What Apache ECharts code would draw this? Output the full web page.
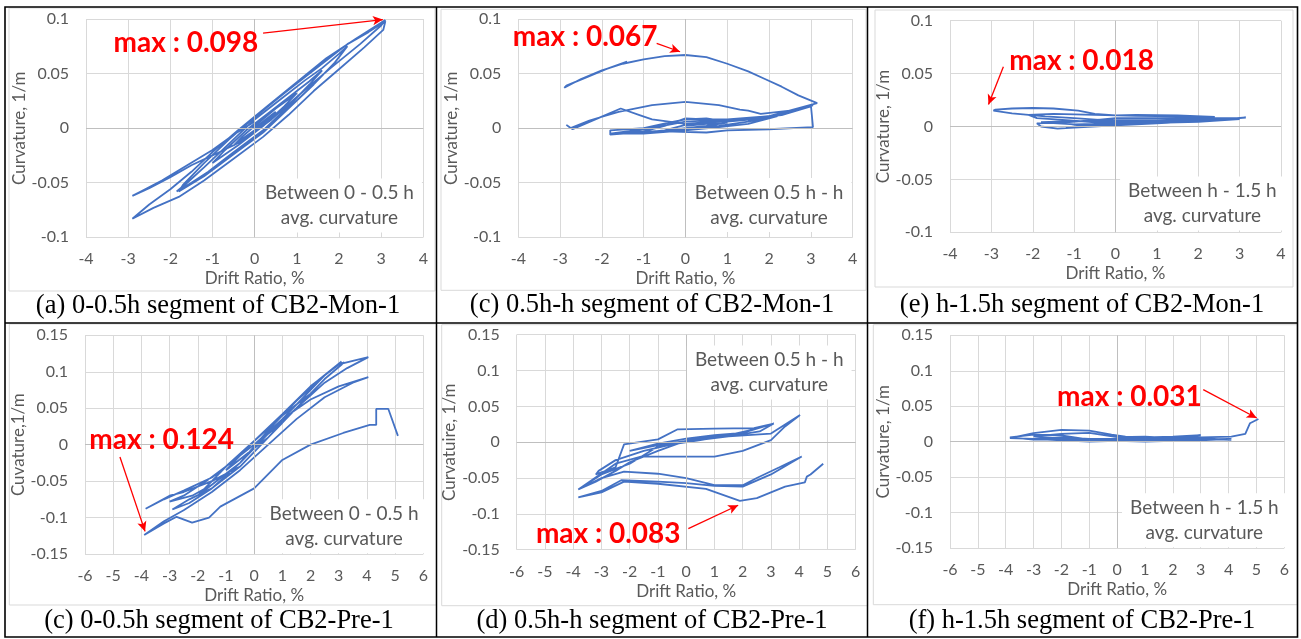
<!DOCTYPE html>
<html><head><meta charset="utf-8">
<script src="https://cdn.jsdelivr.net/npm/echarts@6/dist/echarts.min.js"></script>
<style>html,body{margin:0;padding:0;background:#fff}#c{width:1301px;height:639px}</style>
</head><body><div id="c"></div>
<script>
// ---------- data ----------
const captions = [
  '(a) 0-0.5h segment of CB2-Mon-1',
  '(c) 0.5h-h segment of CB2-Mon-1',
  '(e) h-1.5h segment of CB2-Mon-1',
  '(c) 0-0.5h segment of CB2-Pre-1',
  '(d) 0.5h-h segment of CB2-Pre-1',
  '(f) h-1.5h segment of CB2-Pre-1'
];
const yTitles = ['Curvature, 1/m','Curvature, 1/m','Curvature, 1/m','Cuvature,1/m','Curvatuire, 1/m','Curvature, 1/m'];
const xTitle = 'Drift Ratio, %';
const boxTexts = [
  'Between 0 - 0.5 h\navg. curvature',
  'Between 0.5 h - h\navg. curvature',
  'Between h - 1.5 h\navg. curvature',
  'Between 0 - 0.5 h\navg. curvature',
  'Between 0.5 h - h\navg. curvature',
  'Between h - 1.5 h\navg. curvature'
];
const maxTexts = ['max : 0.098','max : 0.067','max : 0.018','max : 0.124','max : 0.083','max : 0.031'];
// x range / y range per row
const xRangeMon = [-4, 4, 1];
const yRangeMon = [-0.1, 0.1, 0.05];
const xRangePre = [-6, 6, 1];
const yRangePre = [-0.15, 0.15, 0.05];
// annotation anchor points (data units): text centre, arrow tail, arrow tip, box centre
const maxTextAt = [[-1.63,0.078],[-2.4,0.0838],[-0.82,0.062],[-3.28,0.007],[-2.76,-0.128],[0.44,0.063]];
const arrowFrom = [[0.2,0.087],[-0.69,0.0777],[-2.71,0.0564],[-4.76,-0.017],[0.075,-0.1207],[3.09,0.0733]];
const arrowTo   = [[3.04,0.0995],[-0.13,0.070],[-3.07,0.0207],[-3.87,-0.119],[1.84,-0.088],[5.01,0.0334]];
const boxAt = [[2.01,-0.0709],[2.0,-0.0704],[2.1,-0.0727],[3.19,-0.112],[2.94,0.0973],[3.13,-0.1107]];

const curvMonA = [
[0,0],[0.3,0.009],[0.5,0.015],[0.3,0.007],[0,-0.002],[-0.3,-0.01],[-0.5,-0.016],[-0.3,-0.008],[0,0.002],
[0.5,0.018],[1.0,0.032],[0.7,0.02],[0.2,0.002],[-0.4,-0.016],[-1.0,-0.032],[-0.7,-0.02],[-0.2,-0.002],[0.4,0.016],[1.0,0.034],
[1.3,0.043],[1.6,0.053],[1.3,0.04],[0.8,0.02],[0.2,-0.002],[-0.5,-0.022],[-1.1,-0.04],[-1.5,-0.05],[-1.85,-0.058],[-1.6,-0.05],[-1.2,-0.036],[-0.6,-0.014],[0,0.008],[0.6,0.026],[1.2,0.044],[1.6,0.055],
[2.0,0.068],[2.2,0.075],[1.9,0.06],[1.4,0.04],[0.8,0.018],[0.2,-0.004],[-0.5,-0.024],[-1.2,-0.044],[-1.8,-0.058],[-1.7,-0.052],[-1.2,-0.032],[-0.6,-0.01],[0,0.01],[0.7,0.032],[1.4,0.053],[2.2,0.077],
[2.7,0.088],[3.1,0.098],[3.05,0.09],[2.6,0.074],[2.0,0.054],[1.4,0.034],[0.8,0.012],[0.2,-0.008],[-0.5,-0.028],[-1.2,-0.048],[-1.8,-0.063],[-2.4,-0.073],[-2.9,-0.083],[-2.5,-0.07],[-2.0,-0.056],[-1.5,-0.04],[-1.0,-0.022],[-0.4,-0.002],[0.3,0.02],[1.0,0.042],[1.7,0.064],[2.4,0.082],[3.1,0.099],
[3.0,0.094],[2.5,0.077],[1.8,0.055],[1.1,0.032],[0.4,0.008],[-0.3,-0.012],[-1.0,-0.025],[-1.5,-0.034],[-2.0,-0.045],[-2.5,-0.055],[-2.9,-0.062],[-2.7,-0.058],[-2.2,-0.048],[-1.6,-0.034],[-1.0,-0.02],[-0.5,-0.006],[0,0.006]
];
const curvMonB = [
[0,0.002],[0.5,0.004],[1.0,0.005],[0.5,0.002],[0,0.0],[-0.5,-0.002],[-1.0,-0.004],[-0.5,-0.002],[0,0.003],[0.6,0.006],[1.5,0.008],[2.2,0.011],[1.5,0.006],[0.8,0.002],[0,-0.001],[-0.8,-0.003],[-1.8,-0.006],[-1.8,-0.002],[-1.0,0.0],[-0.4,0.005],[0,0.008],[0.5,0.009],[1.0,0.006],[1.6,0.008],[2.2,0.011],[1.5,0.004],[0.8,0.001],[0,-0.002],[-1.0,-0.005],[-1.8,-0.005],[-1.0,-0.003],[-0.5,0.002],[0,0.009],[0.5,0.008],[1.3,0.008],[2.3,0.012],[3.0,0.02],[3.05,0.021],
[2.5,0.016],[1.8,0.013],[1.5,0.016],[1.3,0.017],[0.8,0.021],[0,0.024],[-0.8,0.021],[-1.6,0.015],[-2.3,0.007],[-2.75,0.0],[-2.85,0.003],[-2.7,-0.001],[-2.1,0.009],[-1.55,0.018],[-1.1,0.012],[-0.8,0.008],[0,0.004],[1,0.007],[2.2,0.012],[3.0,0.021],
[3.05,0.001],[2.0,-0.001],[1.0,-0.002],[0.5,-0.004],[-0.5,-0.003],[-1.8,-0.005],[-1.0,-0.001],[0,0.006],[1,0.008],[2,0.011],[3.15,0.023],
[2.7,0.03],[2.3,0.038],[1.9,0.045],[1.5,0.052],[1.0,0.059],[0.5,0.065],[0,0.067],[-0.5,0.066],[-1.0,0.063],[-1.5,0.059],[-2.0,0.053],[-2.5,0.045],[-2.9,0.037],[-2.85,0.039],[-2.4,0.046],[-1.9,0.054],[-1.4,0.061]
];
const curvMonC = [
[0,0.003],[0.8,0.005],[1.5,0.005],[0.8,0.003],[0,0.002],[-0.8,0.0],[-1.2,-0.001],[-0.8,0.001],[0,0.004],[1,0.006],[2,0.007],[2.5,0.007],[2,0.005],[1,0.003],[0,0.001],[-1,-0.001],[-1.4,-0.002],[-1.8,0.0],[-1.9,0.003],[-1.2,0.004],[-0.5,0.006],[0,0.008],[1,0.008],[2,0.008],[3.0,0.008],[3.15,0.0085],[2.5,0.0065],[1.5,0.005],[0.5,0.004],[-0.5,0.004],[-1.2,0.006],[-1.9,0.008],[-2.1,0.011],[-1.5,0.012],[-0.5,0.011],[0.5,0.01],[1.5,0.0095],[2.4,0.009],[1.5,0.0105],[0.5,0.011],[0,0.0105],[-0.5,0.012],[-0.9,0.015],[-1.5,0.017],[-2.0,0.0175],[-2.5,0.017],[-2.9,0.016],[-2.95,0.015],[-2.5,0.0125],[-1.7,0.0095],[-1.0,0.008],[-0.3,0.006],[0.5,0.005],[1.5,0.0055],[3.0,0.007],
[2.0,0.0045],[1.0,0.0035],[0,0.003],[-1.0,0.002],[-1.8,0.004],[-1.0,0.005],[0,0.006],[1.2,0.006],[2.6,0.0075]
];
const curvPreA = [
[0,0],[0.5,0.015],[1,0.03],[0.5,0.01],[0,-0.005],[-0.5,-0.02],[-1,-0.035],[-0.5,-0.015],[0,0.005],[1,0.04],[1.5,0.055],[2,0.07],[1.5,0.05],[0.5,0.015],[-0.5,-0.025],[-1,-0.04],[-2,-0.07],[-1.5,-0.05],[-1,-0.03],[0,0.005],[1,0.04],[2,0.08],[3.1,0.114],
[2.5,0.095],[1.5,0.055],[0.5,0.015],[-0.5,-0.025],[-1.5,-0.055],[-2.2,-0.07],[-3,-0.078],[-2.5,-0.07],[-1.7,-0.05],[-1,-0.03],[0,0.005],[1,0.042],[2,0.08],[3,0.11],[3.2,0.113],
[2.5,0.09],[1.5,0.05],[0.5,0.01],[-0.5,-0.03],[-1.5,-0.06],[-2.3,-0.075],[-2.9,-0.089],[-2.3,-0.08],[-1.5,-0.06],[-0.5,-0.025],[0.5,0.02],[1.5,0.06],[2.5,0.095],[3.0,0.11],[3.5,0.115],[4.05,0.12],
[3.3,0.105],[2.5,0.085],[1.5,0.05],[0.5,0.01],[-0.5,-0.03],[-1.5,-0.05],[-2.5,-0.065],[-3.0,-0.07],[-3.85,-0.088],[-3.2,-0.075],[-2.5,-0.063],[-1.5,-0.045],[-1,-0.03],[0,0.0],[1,0.035],[2,0.062],[3,0.08],[4.05,0.0925],
[3.5,0.085],[2.5,0.065],[1.5,0.035],[0.5,0.0],[-0.5,-0.035],[-1.5,-0.065],[-2.5,-0.09],[-3.2,-0.105],[-3.9,-0.124],[-3.2,-0.108],[-2.75,-0.099],[-2.2,-0.107],[-1.6,-0.1],[-1.2,-0.085],[0,-0.06],[1,-0.021],[2,0],[3.16,0.016],[4.1,0.027],[4.33,0.027],[4.33,0.049],[4.76,0.049],[5.1,0.012]
];
const curvPreB = [
[0,0.003],[1,0.008],[2,0.012],[1,0.006],[0,0.002],[-1,-0.004],[-2,-0.012],[-1,-0.002],[0,0.005],[1,0.01],[2,0.013],[3.0,0.025],[3.1,0.026],[2.4,0.018],[1.5,0.01],[0.5,0.003],[-0.5,-0.003],[-1.5,-0.012],[-2.5,-0.025],[-3.1,-0.04],[-3.2,-0.045],[-2.5,-0.035],[-2.2,-0.003],[-1,0.004],[-0.3,0.018],[1,0.019],[2.4,0.0195],[3.1,0.026],
[2.6,0.015],[1.5,0.008],[0,0.001],[-1,-0.006],[-2,-0.03],[-3,-0.045],[-3.82,-0.066],[-3.2,-0.055],[-2.5,-0.04],[-2.0,-0.028],[-1.0,-0.012],[0,0.002],[1.5,0.008],[3.0,0.012],[4.03,0.038],[3.5,0.022],[3.0,0.003],[2.0,-0.012],[1.0,-0.02],[-1.6,-0.02],[-2.5,-0.03],[-3.82,-0.066],
[-3,-0.05],[-2.2,-0.041],[-1,-0.044],[0,-0.05],[1,-0.06],[2,-0.06],[2.5,-0.05],[3.3,-0.035],[4.09,-0.02],[3,-0.045],[2,-0.062],[1,-0.061],[0,-0.057],[-1,-0.055],[-2.3,-0.053],[-3,-0.068],[-3.82,-0.077],
[-3,-0.07],[-2.2,-0.055],[-1,-0.058],[0.7,-0.065],[1.9,-0.082],[2.5,-0.078],[3.5,-0.062],[4.2,-0.056],[4.27,-0.048],[4.4,-0.045],[4.85,-0.03]
];
const curvPreC = [
[0,0.003],[1,0.004],[2,0.005],[1,0.003],[0,0.002],[-1,0.002],[-2,0.003],[-1,0.001],[0,0.002],[1,0.004],[2,0.006],[3,0.008],[2,0.005],[1,0.003],[0,0.001],[-1,0.0],[-2,0.002],[-3,0.004],[-2,0.006],[-1,0.004],[0,0.004],
[1,0.005],[2,0.006],[3,0.009],[2,0.007],[1,0.006],[0.3,0.007],[-0.2,0.01],[-1,0.0155],[-2,0.0165],[-3,0.012],[-3.85,0.005],[-3,0.004],[-2,0.002],[-1,0.001],[0,0.002],[1,0.003],[2,0.003],[3,0.003],[4.1,0.004],
[3,0.002],[2,0.001],[1,0.0],[0,0.001],[-1,0.003],[-2,0.009],[-3,0.01],[-3.85,0.006],[-3,0.003],[-2,0.003],[-1,0.004],[0,0.004],[1,0.0055],[2,0.0045],[3,0.005],[4.1,0.0025],
[3,0.004],[2,0.0035],[1,0.0025],[0,0.003],[-1,0.0025],[-2,0.0045],[-3,0.0075],[-2,0.011],[-1,0.0125],[0,0.0065],[1,0.007],[2,0.005],[3,0.006],[4.1,0.007],[4.6,0.011],[4.77,0.026],[5.07,0.032]
];
const curves = [curvMonA, curvMonB, curvMonC, curvPreA, curvPreB, curvPreC];

// ---------- layout ----------
const grids = [
  {left:86, top:19, width:337.3, height:218.3},
  {left:518.3, top:19, width:334.4, height:218.3},
  {left:950, top:20.7, width:331, height:211.6},
  {left:85, top:335.3, width:338.3, height:218.7},
  {left:516.7, top:334.7, width:339, height:215},
  {left:950, top:335.3, width:334.3, height:212.7}
];
const frames = [[9,8,426,283],[441,9.3,425,281],[875,10,418,277],[9.3,324,427,281],[441.7,324.7,426,281],[873.3,324.7,424,280]];
const capPos = [[218,306],[652,305],[1082,305],[219,621],[652,621],[1082,621]];

const FONT = 'Lato';
const GREY = '#595959';
const option = {
  backgroundColor:'#fff',
  animation:false,
  grid: grids.map(g=>Object.assign({containLabel:false}, g)),
  xAxis: grids.map((g,i)=>{
    const r = i<3 ? xRangeMon : xRangePre;
    return {type:'value', gridIndex:i, min:r[0], max:r[1], interval:r[2],
      axisLine:{show:false}, axisTick:{show:false},
      axisLabel:{color:GREY, fontSize:16, fontFamily:FONT, margin:14},
      splitLine:{lineStyle:{color:'#d9d9d9', width:1}},
      name:xTitle, nameLocation:'middle', nameGap:33,
      nameTextStyle:{color:GREY, fontSize:17, fontFamily:FONT}};
  }),
  yAxis: grids.map((g,i)=>{
    const r = i<3 ? yRangeMon : yRangePre;
    return {type:'value', gridIndex:i, min:r[0], max:r[1], interval:r[2],
      axisLine:{show:false}, axisTick:{show:false},
      axisLabel:{color:GREY, fontSize:16, fontFamily:FONT, margin:17},
      splitLine:{lineStyle:{color:'#d9d9d9', width:1}},
      name:yTitles[i], nameLocation:'middle', nameGap:52,
      nameTextStyle:{color:GREY, fontSize:17, fontFamily:FONT}};
  }),
  series: curves.map((d,i)=>({
    type:'line', xAxisIndex:i, yAxisIndex:i, data:d, showSymbol:false, symbol:'none',
    lineStyle:{color:'#4472c4', width:1.8}, itemStyle:{color:'#4472c4'}, silent:true,
    markLine:{silent:true, symbol:'none', animation:false,
      label:{show:false},
      data:[
        {xAxis:0, lineStyle:{color:'#bfbfbf', width:1, type:'solid'}},
        {yAxis:0, lineStyle:{color:'#bfbfbf', width:1, type:'solid'}},
        [{coord:arrowFrom[i], symbol:'none', lineStyle:{color:'#ff0000', width:1.3, type:'solid'}},
         {coord:arrowTo[i], symbol:'arrow', symbolSize:[7,10]}]
      ]},
    markPoint:{silent:true, animation:false,
      data:[
        {coord:maxTextAt[i], symbol:'rect', symbolSize:1, itemStyle:{color:'rgba(0,0,0,0)'},
          label:{show:true, position:'inside', formatter:maxTexts[i], color:'#ff0000', fontSize:28, fontWeight:'bold', fontFamily:FONT}},
        {coord:boxAt[i], symbol:'rect', symbolSize:1, itemStyle:{color:'rgba(0,0,0,0)'},
          label:{show:true, position:'inside', formatter:boxTexts[i], color:GREY, fontSize:19, fontFamily:FONT,
            lineHeight:25, align:'center', backgroundColor:'#fff', padding:[2,8]}}
      ]}
  })),
  graphic: [].concat(
    frames.map(f=>({type:'rect', shape:{x:f[0], y:f[1], width:f[2], height:f[3]}, style:{fill:null, stroke:'#d9d9d9', lineWidth:1}, z:-1, silent:true})),
    [
      {type:'rect', shape:{x:5, y:7, width:1292.5, height:630}, style:{fill:null, stroke:'#000', lineWidth:1.6}, silent:true},
      {type:'line', shape:{x1:5, y1:323, x2:1297.5, y2:323}, style:{stroke:'#000', lineWidth:1.5}, silent:true},
      {type:'line', shape:{x1:436.5, y1:7, x2:436.5, y2:637}, style:{stroke:'#000', lineWidth:1.5}, silent:true},
      {type:'line', shape:{x1:867.5, y1:7, x2:867.5, y2:637}, style:{stroke:'#000', lineWidth:1.5}, silent:true}
    ],
    captions.map((c,i)=>({type:'text', x:capPos[i][0], y:capPos[i][1], silent:true,
      style:{text:c, font:'26.5px "Liberation Serif"', fill:'#000', align:'center', verticalAlign:'middle'}}))
  )
};
const chart = echarts.init(document.getElementById('c'), null, {renderer:'canvas'});
chart.setOption(option);
</script>
</body></html>
